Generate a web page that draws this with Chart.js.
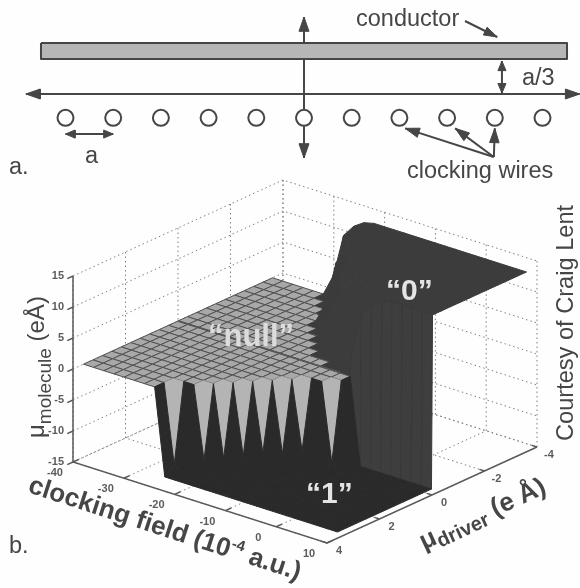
<!DOCTYPE html>
<html lang="en">
<head>
    <script src="https://cdn.jsdelivr.net/npm/chart.js"></script>
    <meta charset="UTF-8">
    <title>Clocking wires and molecule response</title>
    <style>
        html, body { margin: 0; padding: 0; background: #fefefe; }
        canvas { display: block; filter: blur(0.4px); }
    </style>
</head>
<body>
    <canvas id="myChart" width="580" height="588"></canvas>
    <script>
        // tick labels of the 3D box
        const zTicks = [-15, -10, -5, 0, 5, 10, 15];
        const clockTicks = [-40, -30, -20, -10, 0, 10];
        const driverTicks = [4, 2, 0, -2, -4];

        // surface grid
        const clockGrid = [-40, -38, -36, -34, -32, -30, -28, -26, -24, -22, -20, -18, -16, -14, -12, -10, -8, -6, -4, -2, 0, 2, 4, 6, 8, 10];
        const driverGrid = [-3.6, -3.24, -2.88, -2.52, -2.16, -1.8, -1.44, -1.08, -0.72, -0.36, -0.02, 0.02, 0.36, 0.72, 1.08, 1.44, 1.8, 2.16, 2.52, 2.88, 3.24, 3.6];
        // molecule dipole, one row per driverGrid value
        const moleculeRows = [
            [0,0,0,0,0,0,3.5,10.5,12.5,13.6,14,14,14,14,14,14,14,14,14,14,14,14,14,14,14,14],
            [0,0,0,0,0,0,0,3.5,10.5,12.5,13.6,14,14,14,14,14,14,14,14,14,14,14,14,14,14,14],
            [0,0,0,0,0,0,0,0,3.5,10.5,12.5,13.6,14,14,14,14,14,14,14,14,14,14,14,14,14,14],
            [0,0,0,0,0,0,0,0,0,3.5,10.5,12.5,13.6,14,14,14,14,14,14,14,14,14,14,14,14,14],
            [0,0,0,0,0,0,0,0,0,3.5,10.5,12.5,13.6,14,14,14,14,14,14,14,14,14,14,14,14,14],
            [0,0,0,0,0,0,0,0,0,0,3.5,10.5,12.5,13.6,14,14,14,14,14,14,14,14,14,14,14,14],
            [0,0,0,0,0,0,0,0,0,0,0,3.5,10.5,12.5,13.6,14,14,14,14,14,14,14,14,14,14,14],
            [0,0,0,0,0,0,0,0,0,0,0,0,3.5,10.5,12.5,13.6,14,14,14,14,14,14,14,14,14,14],
            [0,0,0,0,0,0,0,0,0,0,0,0,0,3.5,10.5,12.5,13.6,14,14,14,14,14,14,14,14,14],
            [0,0,0,0,0,0,0,0,0,0,0,0,0,0,0,3.5,10.5,12.5,13.6,14,14,14,14,14,14,14],
            [0,0,0,0,0,0,0,0,0,0,0,0,0,0,0,0,0,3.5,10.5,12.5,13.6,14,14,14,14,14],
            [0,0,0,0,0,0,0,0,0,0,0,0,0,0,0,0,0,0,-14,-14,-14,-14,-14,-14,-14,-14],
            [0,0,0,0,0,0,0,0,0,0,0,0,0,0,0,0,0,0,-14,-14,-14,-14,-14,-14,-14,-14],
            [0,0,0,0,0,0,0,0,0,0,0,0,0,0,0,0,0,-12.6,-14,-14,-14,-14,-14,-14,-14,-14],
            [0,0,0,0,0,0,0,0,0,0,0,0,0,0,0,-11,-14,-14,-14,-14,-14,-14,-14,-14,-14,-14],
            [0,0,0,0,0,0,0,0,0,0,0,0,0,0,-11.3,-14,-14,-14,-14,-14,-14,-14,-14,-14,-14,-14],
            [0,0,0,0,0,0,0,0,0,0,0,0,0,-11,-14,-14,-14,-14,-14,-14,-14,-14,-14,-14,-14,-14],
            [0,0,0,0,0,0,0,0,0,0,0,0,-11.3,-14,-14,-14,-14,-14,-14,-14,-14,-14,-14,-14,-14,-14],
            [0,0,0,0,0,0,0,0,0,0,0,-11.5,-14,-14,-14,-14,-14,-14,-14,-14,-14,-14,-14,-14,-14,-14],
            [0,0,0,0,0,0,0,0,0,0,-11.6,-14,-14,-14,-14,-14,-14,-14,-14,-14,-14,-14,-14,-14,-14,-14],
            [0,0,0,0,0,0,0,0,-12.7,-14,-14,-14,-14,-14,-14,-14,-14,-14,-14,-14,-14,-14,-14,-14,-14,-14],
            [0,0,0,0,0,0,0,0,-14,-14,-14,-14,-14,-14,-14,-14,-14,-14,-14,-14,-14,-14,-14,-14,-14,-14]
        ];

        // schematic, in units of the wire pitch a
        const wireIndex = [-5, -4, -3, -2, -1, 0, 1, 2, 3, 4, 5];
        const wireRow = 0.5;

        const inkColor = '#464646';
        const datasets = [];

        // oblique box projection onto the plot scale
        function project(c, d, z) {
            const u = c + 40, v = 4 - d;
            return {
                x: 73 + u * 5.08 + v * 26.25,
                y: 462 + u * 1.62 - v * 12 - (z + 15) * 6.2
            };
        }

        function addLine(points, style, ids) {
            datasets.push(Object.assign({
                data: points,
                showLine: true,
                tension: 0,
                pointRadius: 0,
                borderWidth: 1,
                borderColor: inkColor,
                fill: false,
                xAxisID: ids ? 'xA' : 'x',
                yAxisID: ids ? 'yA' : 'y',
                order: -datasets.length
            }, style));
        }

        function addPoly(points, fillColor, lineColor, width, ids) {
            addLine(points.concat([points[0]]), {
                fill: 'shape',
                backgroundColor: fillColor,
                borderColor: lineColor,
                borderWidth: width,
                borderJoinStyle: 'round'
            }, ids);
        }

        function addArrow(x0, y0, x1, y1, head, half, both) {
            const len = Math.hypot(x1 - x0, y1 - y0);
            const ux = (x1 - x0) / len, uy = (y1 - y0) / len;
            const tip = (x, y, sx, sy) => {
                const bx = x - sx * head, by = y - sy * head;
                addPoly([{x: x, y: y}, {x: bx - sy * half, y: by + sx * half}, {x: bx + sy * half, y: by - sx * half}], inkColor, inkColor, 1, true);
            };
            addLine([{x: x0, y: y0}, {x: x1, y: y1}], {borderWidth: 2}, true);
            tip(x1, y1, ux, uy);
            if (both) tip(x0, y0, -ux, -uy);
        }

        // back walls and floor of the box
        const gridStyle = {borderColor: '#808080', borderDash: [1.5, 3], borderWidth: 1};
        zTicks.forEach(z => {
            addLine([project(-40, 4, z), project(-40, -4, z), project(10, -4, z)], gridStyle);
        });
        driverTicks.forEach(d => {
            addLine([project(-40, d, 15), project(-40, d, -15), project(10, d, -15)], gridStyle);
        });
        clockTicks.forEach(c => {
            addLine([project(c, -4, 15), project(c, -4, -15), project(c, 4, -15)], gridStyle);
        });

        // axes and ticks
        const axisStyle = {borderColor: '#5a5a5a', borderWidth: 1.5};
        addLine([project(-40, 4, 15), project(-40, 4, -15), project(10, 4, -15), project(10, -4, -15)], axisStyle);
        zTicks.forEach(z => addLine([project(-40, 4, z), project(-40, 4.22, z)], axisStyle));
        clockTicks.forEach(c => addLine([project(c, 4, -15), project(c, 3.78, -15)], axisStyle));
        driverTicks.forEach(d => addLine([project(10, d, -15), project(9, d, -15)], axisStyle));

        // surface, far cells first
        for (let j = 0; j < driverGrid.length - 1; j++) {
            for (let i = 0; i < clockGrid.length - 1; i++) {
                const corners = [[i, j], [i + 1, j], [i + 1, j + 1], [i, j + 1]];
                const zs = corners.map(p => moleculeRows[p[1]][p[0]]);
                const pts = corners.map((p, k) => project(clockGrid[p[0]], driverGrid[p[1]], zs[k]));
                const hi = Math.max(...zs), lo = Math.min(...zs);
                const zeros = zs.filter(z => z === 0).length;
                if (hi === 0 && lo === 0) addPoly(pts, '#a8a8a8', '#505050', 1);
                else if (hi === 0 && zeros === 3) addPoly(pts, '#b4b4b4', '#a8a8a8', 0.5);
                else if (hi <= 0) addPoly(pts, '#2a2a2a', '#2a2a2a', 1);
                else if (lo < -10) addPoly(pts, '#3e3e3e', '#383838', 1);
                else addPoly(pts, '#3c3c3c', '#3b3b3b', 1);
            }
        }

        // schematic
        addArrow(0, -1.614, 0, 1.342, 0.3, 0.105, true);
        addArrow(-5.83, 0, 5.78, 0, 0.3, 0.105, true);
        addArrow(4.15, -0.69, 4.15, -0.02, 0.2, 0.085, true);
        addArrow(-5, 0.84, -4, 0.84, 0.2, 0.085, true);
        addArrow(3.98, 1.32, 2.12, 0.72, 0.3, 0.1, false);
        addArrow(3.98, 1.32, 3.17, 0.72, 0.3, 0.1, false);
        addArrow(3.98, 1.32, 4.0, 0.72, 0.3, 0.1, false);
        addArrow(3.375, -1.53, 4.05, -1.195, 0.28, 0.09, false);
        addPoly([{x: -5.514, y: -1.069}, {x: 5.514, y: -1.069}, {x: 5.514, y: -0.734}, {x: -5.514, y: -0.734}], '#b6b6b6', inkColor, 2, true);
        addLine(wireIndex.map(i => ({x: i, y: wireRow})), {
            showLine: false,
            pointRadius: 8,
            pointBorderWidth: 2,
            pointBorderColor: inkColor,
            pointBackgroundColor: '#fefefe'
        }, true);

        const sans = '"Liberation Sans", Arial, sans-serif';
        const tickFont = 'bold 11px ' + sans;
        const tickColor = '#5c5c5c';
        // each text: anchor on the plot scale, rotation in degrees, then its runs
        const texts = [
            {x: 356, y: 26, runs: [{t: 'conductor', f: '23.5px ' + sans}]},
            {x: 522, y: 85, runs: [{t: 'a/3', f: '23.5px ' + sans}]},
            {x: 85, y: 163, runs: [{t: 'a', f: '23.5px ' + sans}]},
            {x: 9, y: 174, runs: [{t: 'a.', f: '23.5px ' + sans}]},
            {x: 407, y: 178, runs: [{t: 'clocking wires', f: '23.5px ' + sans}]},
            {x: 9, y: 553, runs: [{t: 'b.', f: '23.5px ' + sans}]},
            {x: 208, y: 346, runs: [{t: '\u201cnull\u201d', f: 'bold 31px ' + sans, c: '#dcdcdc'}]},
            {x: 386, y: 300, runs: [{t: '\u201c0\u201d', f: 'bold 30px ' + sans, c: '#e4e4e4'}]},
            {x: 306, y: 503, runs: [{t: '\u201c1\u201d', f: 'bold 30px ' + sans, c: '#e4e4e4'}]},
            {x: 573, y: 441, rot: -90, runs: [{t: 'Courtesy of Craig Lent', f: '23.6px ' + sans}]},
            {x: 44, y: 438, rot: -90, runs: [
                {t: '\u03bc', f: '24px ' + sans},
                {t: 'molecule', f: '19px ' + sans, dy: 7},
                {t: ' (e\u00c5)', f: '24px ' + sans}
            ]},
            {x: 27, y: 492, rot: 18, runs: [
                {t: 'clocking field (10', f: 'bold 26px ' + sans},
                {t: '-4', f: 'bold 15px ' + sans, dy: -10},
                {t: ' a.u.)', f: 'bold 26px ' + sans}
            ]},
            {x: 424, y: 550, rot: -25, runs: [
                {t: '\u03bc', f: 'bold 26px ' + sans},
                {t: 'driver', f: 'bold 20px ' + sans, dy: 5},
                {t: ' (e \u00c5)', f: 'bold 26px ' + sans}
            ]}
        ];

        const labelPlugin = {
            id: 'plotLabels',
            afterDraw(chart) {
                const ctx = chart.ctx, sx = chart.scales.x, sy = chart.scales.y;
                const tick = (text, p, dx, dy, align) => {
                    ctx.font = tickFont;
                    ctx.fillStyle = tickColor;
                    ctx.textAlign = align;
                    ctx.textBaseline = 'middle';
                    ctx.fillText(text, sx.getPixelForValue(p.x + dx), sy.getPixelForValue(p.y + dy));
                };
                ctx.save();
                zTicks.forEach(z => tick(String(z), project(-40, 4, z), -9, 0, 'right'));
                clockTicks.forEach(c => tick(String(c), project(c, 4, -15), -18, 11, 'center'));
                driverTicks.forEach(d => tick(String(d), project(10, d, -15), 12, 8, 'center'));
                ctx.textAlign = 'left';
                ctx.textBaseline = 'alphabetic';
                texts.forEach(item => {
                    ctx.save();
                    ctx.translate(sx.getPixelForValue(item.x), sy.getPixelForValue(item.y));
                    ctx.rotate((item.rot || 0) * Math.PI / 180);
                    let pos = 0;
                    item.runs.forEach(run => {
                        ctx.font = run.f;
                        ctx.fillStyle = run.c || inkColor;
                        ctx.fillText(run.t, pos, run.dy || 0);
                        pos += ctx.measureText(run.t).width;
                    });
                    ctx.restore();
                });
                ctx.restore();
            }
        };

        new Chart(document.getElementById('myChart'), {
            type: 'scatter',
            data: {datasets: datasets},
            options: {
                responsive: false,
                animation: false,
                layout: {padding: 0, autoPadding: false},
                plugins: {legend: {display: false}, tooltip: {enabled: false}},
                scales: {
                    x: {display: false, min: 0, max: 580},
                    y: {display: false, min: 0, max: 588, reverse: true},
                    xA: {display: false, min: -304 / 47.7, max: 276 / 47.7},
                    yA: {display: false, min: -94 / 47.7, max: 494 / 47.7, reverse: true}
                }
            },
            plugins: [labelPlugin]
        });
    </script>
</body>
</html>
